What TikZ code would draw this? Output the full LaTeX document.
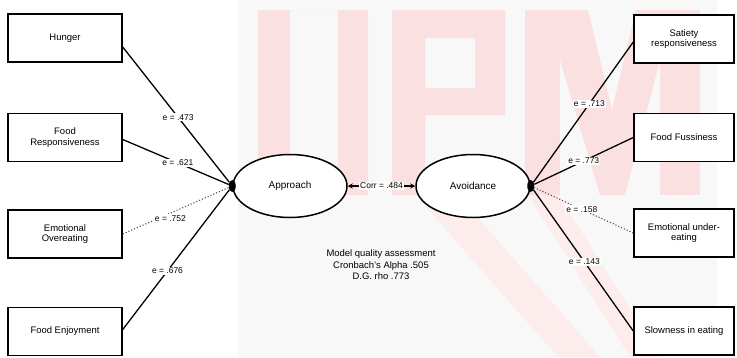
\documentclass[tikz,border=0pt]{standalone}
\usepackage{fontspec}
\setmainfont{Liberation Sans}
\usetikzlibrary{shapes.geometric,arrows.meta}
\definecolor{wmpink}{RGB}{250,224,224}
\definecolor{wmpale}{RGB}{252,236,236}
\definecolor{wmgray}{RGB}{248,248,248}
\begin{document}
\begin{tikzpicture}[x=1bp,y=-1bp,
  box/.style={draw, line width=1.5pt, fill=white, minimum width=114bp, minimum height=48bp,
    align=center, font=\fontsize{9.5}{10.5}\selectfont, inner sep=1pt},
  rbox/.style={box, minimum width=100bp},
  lv/.style={ellipse, draw, line width=1.5pt, fill=white, minimum width=114bp, minimum height=63bp,
    font=\fontsize{10}{11}\selectfont},
  hub/.style={ellipse, fill=black, inner sep=0pt, minimum width=7bp, minimum height=12bp},
  link/.style={line width=1.3pt},
  weak/.style={line width=1.1pt, dotted, black!70},
  lab/.style={fill=white, text=black, inner sep=1pt, font=\fontsize{8.5}{9}\selectfont},
  note/.style={align=center, font=\fontsize{9.5}{11.5}\selectfont}]
\useasboundingbox (0,0) rectangle (737,357);
% watermark background
\fill[wmgray] (238,0) rectangle (717,357);
\fill[wmpale] (420,200) -- (462,200) -- (600,357) -- (558,357) -- cycle;
\fill[wmpale] (525,190) -- (555,190) -- (660,357) -- (630,357) -- cycle;
\fill[wmpink, even odd rule] (258,10) rectangle (368,195) (290,10) rectangle (338,165);
\fill[wmpink, even odd rule] (392,10) -- (505,10) -- (505,115) -- (425,115) -- (425,195) -- (392,195) -- cycle
  (425,38) rectangle (475,88);
\fill[wmpink] (525,10) rectangle (560,195);
\fill[wmpink] (660,10) rectangle (700,195);
\fill[wmpink] (560,10) -- (588,10) -- (612,110) -- (636,10) -- (660,10) -- (660,60) -- (625,195)
  -- (600,195) -- (560,60) -- cycle;
% indicators
\node[box] (hun) at (65,38) {Hunger};
\node[box] (fr) at (65,137.5) {Food\\Responsiveness};
\node[box] (eo) at (65,234) {Emotional\\Overeating};
\node[box] (fe) at (65,331.5) {Food Enjoyment};
\node[rbox] (sr) at (684,39) {Satiety\\responsiveness};
\node[rbox] (ff) at (684,137.5) {Food Fussiness};
\node[rbox] (eu) at (684,233) {Emotional under-\\eating};
\node[rbox] (se) at (684,331) {Slowness in eating};
% latent variables
\node[lv] (app) at (290,186) {Approach};
\node[lv] (avo) at (473,186) {Avoidance};
\node[hub] (ha) at (app.west) {};
\node[hub] (hv) at (avo.east) {};
% loadings
\draw[link] ([yshift=-9bp]hun.east) -- node[lab, pos=0.52] {e = .473} (ha);
\draw[link] ([yshift=-2bp]fr.east) -- node[lab, pos=0.52] {e = .621} (ha);
\draw[weak] (eo.east) -- node[lab, pos=0.45, yshift=-5bp] {e = .752} (ha);
\draw[link] ([yshift=2bp]fe.east) -- node[lab, pos=0.42] {e = .676} (ha);
\draw[link] ([yshift=-3bp]sr.west) -- node[lab, pos=0.44] {e = .713} (hv);
\draw[link] (ff.west) -- node[lab, pos=0.5] {e = .773} (hv);
\draw[weak] (eu.west) -- node[lab, pos=0.52] {e = .158} (hv);
\draw[link] (se.west) -- node[lab, pos=0.49] {e = .143} (hv);
% correlation
\draw[link, {Stealth[length=5bp,width=5bp]}-{Stealth[length=5bp,width=5bp]}] (app.east) --
  node[lab] {Corr = .484} (avo.west);
% model quality
\node[note] (mq) at (381,265) {Model quality assessment\\Cronbach's Alpha .505\\D.G. rho .773};
\end{tikzpicture}
\end{document}
